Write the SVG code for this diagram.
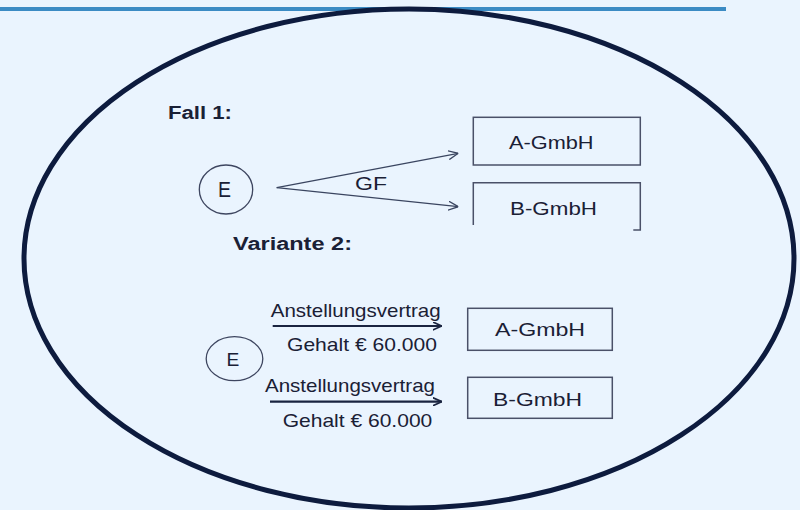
<svg xmlns="http://www.w3.org/2000/svg" width="800" height="510" viewBox="0 0 800 510">
  <style>
    .lbl { font-family: "Liberation Sans", Arial, sans-serif; fill: #1A2035; }
    .head { font-weight: bold; font-size: 18px; }
    .box { fill: none; stroke: #4A5068; stroke-width: 1.5; }
    .node { fill: none; stroke: #3E4660; stroke-width: 1.3; }
    .thin { fill: none; stroke: #3A4560; stroke-width: 1.3; }
    .thick { fill: none; stroke: #1A2440; stroke-width: 2.2; }
  </style>
  <defs>
    <marker id="openThin" viewBox="0 0 10 10" refX="10" refY="5" markerWidth="10" markerHeight="10" markerUnits="userSpaceOnUse" orient="auto">
      <path d="M0,0.5 L10,5 L0,9.5" fill="none" stroke="#3A4560" stroke-width="1.3"/>
    </marker>
    <marker id="openBold" viewBox="0 0 10 10" refX="10" refY="5" markerWidth="9" markerHeight="9" markerUnits="userSpaceOnUse" orient="auto">
      <path d="M0,0.5 L10,5 L0,9.5" fill="none" stroke="#1A2440" stroke-width="2"/>
    </marker>
  </defs>

  <!-- page background and top rule -->
  <rect x="0" y="0" width="800" height="510" fill="#EAF4FE"/>
  <line x1="0" y1="9" x2="726" y2="9" stroke="#3B8BC4" stroke-width="4"/>

  <!-- enclosing ellipse -->
  <ellipse cx="409" cy="258.5" rx="385" ry="249.5" fill="none" stroke="#0D1B3E" stroke-width="5"/>

  <!-- section headings -->
  <text class="lbl head" x="168" y="119" textLength="64" lengthAdjust="spacingAndGlyphs">Fall 1:</text>
  <text class="lbl head" x="233" y="250" textLength="119" lengthAdjust="spacingAndGlyphs">Variante 2:</text>

  <!-- Fall 1 nodes -->
  <g id="e1">
    <ellipse class="node" cx="226" cy="189.5" rx="26.7" ry="24.5"/>
    <text class="lbl" x="218" y="196.5" font-size="22" textLength="13" lengthAdjust="spacingAndGlyphs">E</text>
  </g>
  <g id="a1">
    <rect class="box" x="473.3" y="117.3" width="167" height="47.7"/>
    <text class="lbl" x="509" y="149.3" font-size="18.5" textLength="84.5" lengthAdjust="spacingAndGlyphs">A-GmbH</text>
  </g>
  <g id="b1">
    <path class="box" d="M473.3,225 V182.7 H640.3 V230 H633.3"/>
    <text class="lbl" x="510" y="215" font-size="19" textLength="87" lengthAdjust="spacingAndGlyphs">B-GmbH</text>
  </g>

  <!-- Variante 2 nodes -->
  <g id="e2">
    <ellipse class="node" cx="234.5" cy="358.7" rx="28.3" ry="22"/>
    <text class="lbl" x="226.5" y="366" font-size="18" textLength="12.8" lengthAdjust="spacingAndGlyphs">E</text>
  </g>
  <g id="a2">
    <rect class="box" x="467.7" y="308.3" width="144.6" height="42"/>
    <text class="lbl" x="495" y="335.7" font-size="18.5" textLength="90" lengthAdjust="spacingAndGlyphs">A-GmbH</text>
  </g>
  <g id="b2">
    <rect class="box" x="467.7" y="377.3" width="144.6" height="41"/>
    <text class="lbl" x="493" y="406" font-size="18.5" textLength="89" lengthAdjust="spacingAndGlyphs">B-GmbH</text>
  </g>

  <!-- connectors -->
  <g id="connectors">
    <line class="thin" x1="276.7" y1="187.7" x2="458.3" y2="153.3" marker-end="url(#openThin)"/>
    <line class="thin" x1="276.7" y1="187.7" x2="458.3" y2="206.7" marker-end="url(#openThin)"/>
    <text class="lbl" x="355" y="190" font-size="17.7" textLength="32" lengthAdjust="spacingAndGlyphs">GF</text>

    <line class="thick" x1="272.7" y1="326" x2="441.7" y2="326" marker-end="url(#openBold)"/>
    <text class="lbl" x="270.7" y="316.5" font-size="17.7" textLength="170" lengthAdjust="spacingAndGlyphs">Anstellungsvertrag</text>
    <text class="lbl" x="287" y="350.5" font-size="17.7" fill="#2E354D" textLength="150" lengthAdjust="spacingAndGlyphs">Gehalt € 60.000</text>

    <line class="thick" x1="270" y1="401.7" x2="441.7" y2="401.7" marker-end="url(#openBold)"/>
    <text class="lbl" x="265" y="391.7" font-size="17.7" textLength="170" lengthAdjust="spacingAndGlyphs">Anstellungsvertrag</text>
    <text class="lbl" x="282.7" y="426.7" font-size="17.7" fill="#2E354D" textLength="149.6" lengthAdjust="spacingAndGlyphs">Gehalt € 60.000</text>
  </g>
</svg>
